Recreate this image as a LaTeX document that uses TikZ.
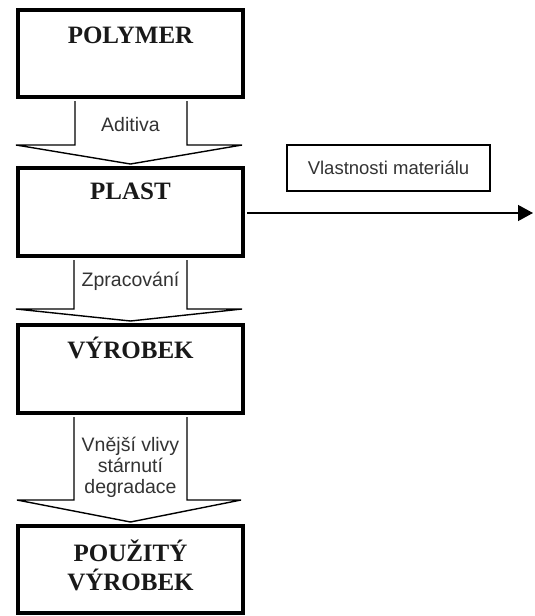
\documentclass[tikz,border=0pt]{standalone}
\usepackage{fontspec}
\setmainfont{Liberation Serif}
\newfontfamily\lblfont{Liberation Sans}
\usetikzlibrary{calc,arrows.meta}
\begin{document}
\begin{tikzpicture}[x=1pt,y=-1pt,
  stagebox/.style={draw=black,line width=4pt,minimum width=225pt,minimum height=87pt,inner sep=0pt},
  ttl/.style={font=\fontsize{25}{29}\selectfont\bfseries,align=center,inner sep=0pt,text=black!90},
  lbl/.style={font=\lblfont\fontsize{19.5}{21}\selectfont,align=center,inner sep=0pt,text=black!80},
  blockarrow/.style={draw=black,line width=1.4pt,fill=white,line join=miter},
  propbox/.style={draw=black,line width=1.5pt,minimum width=203pt,minimum height=46pt,font=\lblfont\fontsize{18.5}{21}\selectfont,text=black!80},
  flow/.style={line width=1.3pt,-{Triangle[length=15pt,width=16pt]}}]
\useasboundingbox (0,0) rectangle (535,616);
\fill[white] (0,0) rectangle (535,616);
% boxes
\node[stagebox] (poly) at (130.5,53.5) {};
\node[stagebox,minimum height=88pt] (plast) at (130.5,212) {};
\node[stagebox,minimum height=88pt] (vyr) at (130.5,369) {};
\node[stagebox] (pouz) at (130.5,569.5) {};
% titles
\node[ttl] (tpoly) at ($(poly.north)+(0,27)$) {POLYMER};
\node[ttl] (tplast) at ($(plast.north)+(0,25)$) {PLAST};
\node[ttl] (tvyr) at ($(vyr.north)+(0,25)$) {VÝROBEK};
\node[ttl] (tpouz) at ($(pouz.north)+(0,41.5)$) {POUŽITÝ\\VÝROBEK};
% block arrows
\draw[blockarrow] ($(poly.south)+(-55.5,2)$) -- ($(poly.south)+(-55.5,46)$) -- ($(poly.south)+(-114.5,46)$)
  -- ($(plast.north)+(0,-2)$) -- ($(poly.south)+(111.5,46)$) -- ($(poly.south)+(56.5,46)$) -- ($(poly.south)+(56.5,2)$);
\draw[blockarrow] ($(plast.south)+(-56.5,2)$) -- ($(plast.south)+(-56.5,51)$) -- ($(plast.south)+(-114.5,51)$)
  -- ($(vyr.north)+(0,-2)$) -- ($(plast.south)+(111.5,51)$) -- ($(plast.south)+(56.5,51)$) -- ($(plast.south)+(56.5,2)$);
\draw[blockarrow] ($(vyr.south)+(-56.5,2)$) -- ($(vyr.south)+(-56.5,85)$) -- ($(vyr.south)+(-113.5,85)$)
  -- ($(pouz.north)+(0,-2)$) -- ($(vyr.south)+(110.5,85)$) -- ($(vyr.south)+(56.5,85)$) -- ($(vyr.south)+(56.5,2)$);
% arrow labels
\node[lbl] (ladit) at (130.5,125) {Aditiva};
\node[lbl] (lzprac) at (130.5,281.5) {Zpracování};
\node[lbl] (lvnej) at (130.5,467) {Vnější vlivy\\stárnutí\\degradace};
% property
\node[propbox] (prop) at (388.5,168) {Vlastnosti materiálu};
\coordinate (out) at (533,213);
\draw[flow] (plast.east |- out) ++(2,0) -- (out);
\end{tikzpicture}
\end{document}
